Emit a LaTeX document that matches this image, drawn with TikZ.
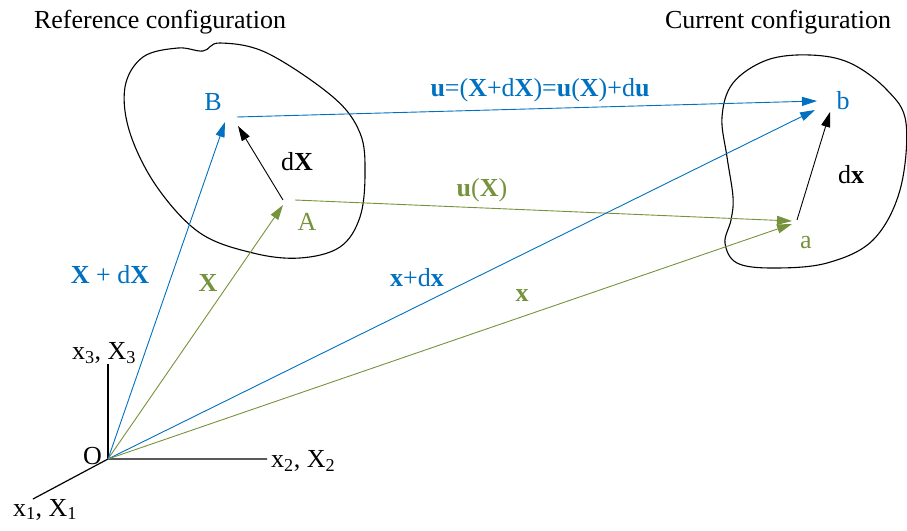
\documentclass[tikz,border=0pt]{standalone}
\usepackage{fontspec}
\setmainfont{Liberation Serif}
\definecolor{refblue}{RGB}{0,112,192}
\definecolor{refgreen}{RGB}{118,146,60}
\usetikzlibrary{arrows.meta,positioning}
\tikzset{
  vec/.style={-{Triangle[length=15pt,width=9pt]}, line width=0.9pt},
  lbl/.style={inner sep=1pt, font=\fontsize{26}{30}\selectfont},
  blob/.style={draw, line width=1.1pt}
}

\begin{document}
\begin{tikzpicture}[x=1pt, y=-1pt]
    \useasboundingbox (0,0) rectangle (907,530);
    % bodies
    \draw[blob] plot[smooth cycle, tension=0.6] coordinates {
      (203,51) (220,43) (267,53) (333,97) (360,133) (365,173) (360,217)
      (340,247) (300,258) (253,253) (200,233) (157,187) (130,133)
      (125,87) (143,57) (178,48)};
    \draw[blob] plot[smooth cycle, tension=0.6] coordinates {
      (810,55) (850,63) (887,90) (906,123) (900,190) (873,240) (827,263)
      (773,268) (737,263) (725,243) (731,220) (733,197) (727,157)
      (722,117) (733,83) (767,60)};
    % axes
    \coordinate (O) at (108,459);
    \coordinate (e1) at (33,499);
    \coordinate (e2) at (267,459);
    \coordinate (e3) at (108,364);
    \draw[line width=1.2pt] (e1) -- (O) -- (e2);
    \draw[line width=1.2pt] (O) -- (e3);
    \node[lbl, above=-1pt of e3, xshift=-4pt] (lx3) {x\textsubscript{3}, X\textsubscript{3}};
    \node[lbl, left=5pt of O, yshift=3pt] (lO) {O};
    \node[lbl, right=3pt of e2, yshift=-2pt] (lx2) {x\textsubscript{2}, X\textsubscript{2}};
    \node[lbl, below=-1pt of e1, xshift=12pt] (lx1) {x\textsubscript{1}, X\textsubscript{1}};
    % points
    \coordinate (A) at (283,205);
    \coordinate (Aup) at (283,200);
    \coordinate (Aright) at (295,200);
    \coordinate (B) at (225,122);
    \coordinate (Bdown) at (238,126);
    \coordinate (Bright) at (237,117);
    \coordinate (a) at (792,224);
    \coordinate (aup) at (797,220);
    \coordinate (aleft) at (792,221);
    \coordinate (b) at (815,110);
    \coordinate (bup) at (830,112);
    \coordinate (bleft) at (817,101);
    \node[lbl, text=refblue] (lB) at (213,102) {B};
    \node[lbl, text=refgreen] (lA) at (307,222) {A};
    \node[lbl, text=refblue] (lb) at (843,101) {b};
    \node[lbl, text=refgreen] (la) at (806,243) {a};
    % vectors
    \draw[vec, refgreen] (O) -- (A);
    \draw[vec, refblue] (O) -- (B);
    \draw[vec] (Aup) -- (Bdown);
    \draw[vec, refgreen] (Aright) -- (aleft);
    \draw[vec, refblue] (Bright) -- (bleft);
    \draw[vec, refblue] (O) -- (b);
    \draw[vec, refgreen] (O) -- (a);
    \draw[vec] (aup) -- (bup);
    % labels
    \node[lbl] (ldX) at (297,162) {d\textbf{X}};
    \node[lbl] (ldx) at (851,175) {d\textbf{x}};
    \node[lbl, text=refblue] (lXdX) at (110,275) {\textbf{X} + d\textbf{X}};
    \node[lbl, text=refgreen] (lX) at (208,283) {\textbf{X}};
    \node[lbl, text=refblue] (lxdx) at (417,278) {\textbf{x}+d\textbf{x}};
    \node[lbl, text=refgreen] (lx) at (522,296) {\textbf{x}};
    \node[lbl, text=refgreen] (luX) at (482,190) {\textbf{u}(\textbf{X})};
    \node[lbl, text=refblue] (lu) at (540,90)
      {\textbf{u}=(\textbf{X}+d\textbf{X})=\textbf{u}(\textbf{X})+d\textbf{u}};
    \node[lbl] (tref) at (160,22) {Reference configuration};
    \node[lbl] (tcur) at (778,22) {Current configuration};
  \end{tikzpicture}
\end{document}
